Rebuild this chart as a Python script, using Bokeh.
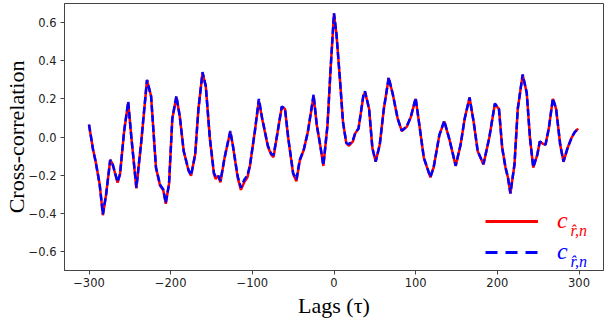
import numpy as np
from bokeh.plotting import figure
from bokeh.models import Legend, LegendItem, Label, FixedTicker, CustomJSTickFormatter, Range1d
from bokeh.embed import file_html
from bokeh.resources import INLINE

lags = [-300, -295, -292, -287, -283, -279, -274, -271, -265, -262,
        -257, -252, -248, -242, -236, -229, -224, -218, -213, -209,
        -206, -202, -198, -193, -189, -184, -178, -175, -170, -166,
        -161, -157, -152, -147, -145, -142, -139, -134, -127, -124,
        -118, -114, -110, -106, -103, -97, -92, -88, -81, -77,
        -74, -69, -64, -60, -56, -50, -46, -42, -37, -32,
        -25, -21, -17, -13, -8, -4, 0, 3, 7, 11,
        15, 18, 23, 26, 30, 36, 38, 43, 47, 51,
        56, 61, 67, 72, 78, 83, 89, 94, 100, 104,
        110, 118, 122, 129, 135, 141, 149, 155, 160, 166,
        171, 176, 183, 190, 197, 202, 206, 210, 213, 216,
        221, 225, 231, 236, 240, 244, 249, 252, 256, 259,
        263, 268, 272, 277, 281, 286, 291, 295, 299]

c_hat = [0.065, -0.067, -0.126, -0.246, -0.41, -0.30, -0.12, -0.144, -0.24, -0.195,
         0.03, 0.18, -0.007, -0.27, -0.024, 0.297, 0.215, -0.16, -0.255, -0.28,
         -0.35, -0.246, 0.096, 0.21, 0.113, -0.075, -0.178, -0.203, -0.092, 0.147,
         0.335, 0.267, -0.007, -0.195, -0.22, -0.203, -0.238, -0.109, 0.027, -0.04,
         -0.212, -0.277, -0.238, -0.212, -0.152, 0.027, 0.19, 0.096, -0.05, -0.092,
         -0.105, 0.027, 0.156, 0.147, -0.007, -0.195, -0.232, -0.126, -0.067, 0.027,
         0.215, 0.06, -0.04, -0.152, 0.06, 0.37, 0.646, 0.54, 0.318, 0.079,
         -0.032, -0.046, -0.024, 0.019, 0.044, 0.215, 0.236, 0.147, -0.058, -0.13,
         -0.041, 0.147, 0.309, 0.224, 0.096, 0.031, 0.053, 0.104, 0.20, 0.079,
         -0.109, -0.212, -0.16, 0.01, 0.082, -0.007, -0.152, -0.041, 0.096, 0.207,
         0.079, -0.075, -0.144, -0.007, 0.173, 0.147, -0.058, -0.16, -0.212, -0.297,
         -0.144, 0.147, 0.326, 0.232, -0.007, -0.16, -0.092, -0.024, -0.036, -0.041,
         0.044, 0.20, 0.147, -0.041, -0.13, -0.058, -0.003, 0.027, 0.044]

c_true = [0.065, -0.067, -0.126, -0.246, -0.405, -0.30, -0.12, -0.144, -0.235, -0.195,
          0.03, 0.185, -0.007, -0.265, -0.024, 0.3, 0.215, -0.16, -0.25, -0.275,
          -0.345, -0.246, 0.096, 0.215, 0.113, -0.075, -0.175, -0.2, -0.092, 0.147,
          0.34, 0.267, -0.007, -0.19, -0.205, -0.2, -0.23, -0.109, 0.032, -0.04,
          -0.205, -0.265, -0.225, -0.2, -0.152, 0.027, 0.2, 0.1, -0.045, -0.088,
          -0.095, 0.027, 0.16, 0.15, -0.007, -0.19, -0.222, -0.12, -0.067, 0.027,
          0.222, 0.06, -0.04, -0.148, 0.06, 0.37, 0.65, 0.54, 0.318, 0.079,
          -0.03, -0.038, -0.02, 0.022, 0.044, 0.22, 0.24, 0.147, -0.058, -0.128,
          -0.041, 0.147, 0.312, 0.224, 0.096, 0.033, 0.055, 0.104, 0.205, 0.079,
          -0.109, -0.21, -0.16, 0.01, 0.085, -0.007, -0.15, -0.041, 0.096, 0.207,
          0.079, -0.075, -0.142, -0.007, 0.176, 0.147, -0.058, -0.16, -0.212, -0.295,
          -0.144, 0.147, 0.328, 0.232, -0.007, -0.158, -0.092, -0.024, -0.034, -0.04,
          0.044, 0.203, 0.147, -0.041, -0.128, -0.058, -0.003, 0.027, 0.044]

x_ticks = [-300, -200, -100, 0, 100, 200, 300]
y_ticks = [-0.6, -0.4, -0.2, 0.0, 0.2, 0.4, 0.6]

p = figure(width=604, height=320, output_backend="svg", toolbar_location=None,
           x_range=Range1d(-330, 330), y_range=Range1d(-0.7, 0.7),
           min_border_left=62, min_border_right=1, min_border_top=3, min_border_bottom=49)
p.background_fill_color = "white"
p.border_fill_color = "white"
p.outline_line_color = "#444444"
p.outline_line_width = 1
p.xgrid.visible = False
p.ygrid.visible = False

r1 = p.line(lags, c_hat, line_color="red", line_width=2.5)
r2 = p.line(lags, c_true, line_color="blue", line_width=2.5, line_dash="7 3")
# legend handles (a single undefined point, so nothing is drawn in the plot area)
nan = np.array([np.nan])
h1 = p.line(x=nan, y=nan, line_color="red", line_width=3)
h2 = p.line(x=nan, y=nan, line_color="blue", line_width=3, line_dash="12 8")

for ax, ticks, code in [
    (p.xaxis[0], x_ticks, "return Math.abs(tick) < 1e-9 ? '0' : tick.toFixed(0).replace('-', '\u2212');"),
    (p.yaxis[0], y_ticks, "return Math.abs(tick) < 1e-9 ? '0.0' : tick.toFixed(1).replace('-', '\u2212');"),
]:
    ax.ticker = FixedTicker(ticks=ticks)
    ax.formatter = CustomJSTickFormatter(code=code)
    ax.major_label_text_font = "DejaVu Sans"
    ax.major_label_text_font_size = "11.5px"
    ax.major_label_text_color = "#222222"
    ax.major_tick_out = 4
    ax.major_tick_in = 0
    ax.minor_tick_out = 0
    ax.minor_tick_in = 0
    ax.major_tick_line_color = "#444444"
    ax.axis_line_color = "#444444"
    ax.major_label_standoff = 4
    ax.axis_label_text_font = "Liberation Serif"
    ax.axis_label_text_font_size = "22px"
    ax.axis_label_text_font_style = "normal"
    ax.axis_label_text_color = "black"

p.xaxis.major_label_standoff = 3
p.xaxis.axis_label = "Lags (\u03c4)"
p.xaxis.axis_label_standoff = 3
p.yaxis.axis_label = "Cross-correlation"
p.yaxis.axis_label_standoff = -3

for rend, color, ypos in [(h1, "red", 36), (h2, "blue", 5)]:
    leg = Legend(items=[LegendItem(label="c", renderers=[rend])], location=(421, ypos),
                 border_line_color=None, background_fill_alpha=0, padding=0, margin=0,
                 glyph_width=53, glyph_height=20, label_height=20, label_standoff=19,
                 label_text_font="Liberation Serif", label_text_font_style="italic",
                 label_text_font_size="24px", label_text_color=color)
    p.add_layout(leg)
    p.add_layout(Label(x=506, y=ypos + 4, x_units="screen", y_units="screen",
                       text="r\u0302,n", text_font="Liberation Serif", text_baseline="alphabetic",
                       text_font_style="italic", text_font_size="16px", text_color=color))

open("out.html", "w").write(file_html(p, INLINE))
